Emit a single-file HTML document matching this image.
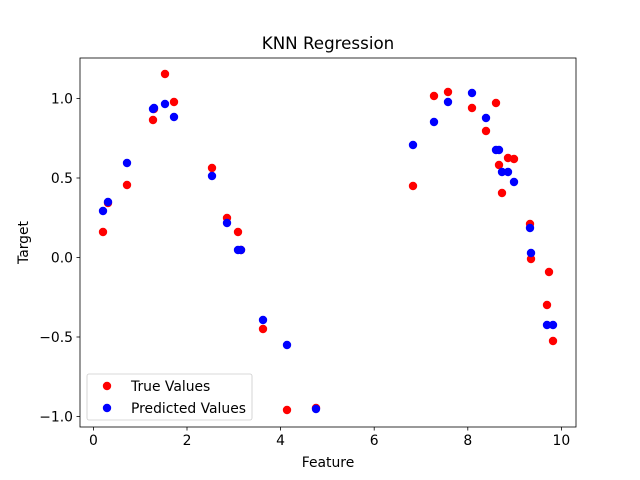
<!DOCTYPE html>
<html><head><meta charset="utf-8"><style>body{margin:0;background:#fff}svg{display:block}text{font-family:"DejaVu Sans","Liberation Sans",sans-serif;fill:#000}</style></head><body>
<svg width="640" height="480" xmlns="http://www.w3.org/2000/svg">
<rect x="80" y="58" width="496" height="369" fill="#fff" stroke="#000" stroke-width="0.8"/>
<g stroke="#000" stroke-width="0.8">
<line x1="93.4" y1="427" x2="93.4" y2="430.5"/><line x1="187" y1="427" x2="187" y2="430.5"/><line x1="280.6" y1="427" x2="280.6" y2="430.5"/><line x1="374.2" y1="427" x2="374.2" y2="430.5"/><line x1="467.8" y1="427" x2="467.8" y2="430.5"/><line x1="561.4" y1="427" x2="561.4" y2="430.5"/>
<line x1="76.5" y1="98.5" x2="80" y2="98.5"/><line x1="76.5" y1="178" x2="80" y2="178"/><line x1="76.5" y1="257.5" x2="80" y2="257.5"/><line x1="76.5" y1="337" x2="80" y2="337"/><line x1="76.5" y1="416.5" x2="80" y2="416.5"/>
</g>
<g font-size="13.9" text-anchor="middle">
<text x="93.4" y="445">0</text><text x="187" y="445">2</text><text x="280.6" y="445">4</text><text x="374.2" y="445">6</text><text x="467.8" y="445">8</text><text x="561.4" y="445">10</text>
</g>
<g font-size="13.9" text-anchor="end">
<text x="73" y="103.5">1.0</text><text x="73" y="183">0.5</text><text x="73" y="262.5">0.0</text><text x="73" y="342">−0.5</text><text x="73" y="421.5">−1.0</text>
</g>
<text x="328" y="467" font-size="13.9" text-anchor="middle">Feature</text>
<text transform="translate(28,242.5) rotate(-90)" font-size="13.9" text-anchor="middle">Target</text>
<text x="328" y="49" font-size="16.7" text-anchor="middle">KNN Regression</text>
<g fill="red">
<circle cx="103" cy="232" r="4.2"/><circle cx="108" cy="203" r="4.2"/><circle cx="127" cy="185" r="4.2"/><circle cx="153" cy="120" r="4.2"/><circle cx="154" cy="109" r="4.2"/><circle cx="165" cy="74" r="4.2"/><circle cx="174" cy="102" r="4.2"/><circle cx="212" cy="168" r="4.2"/><circle cx="227" cy="218" r="4.2"/><circle cx="238" cy="232" r="4.2"/><circle cx="241" cy="250" r="4.2"/><circle cx="263" cy="329" r="4.2"/><circle cx="287" cy="410" r="4.2"/><circle cx="316" cy="408" r="4.2"/><circle cx="413" cy="186" r="4.2"/><circle cx="434" cy="96" r="4.2"/><circle cx="448" cy="92" r="4.2"/><circle cx="472" cy="108" r="4.2"/><circle cx="486" cy="131" r="4.2"/><circle cx="496" cy="103" r="4.2"/><circle cx="499" cy="165" r="4.2"/><circle cx="502" cy="193" r="4.2"/><circle cx="508" cy="158" r="4.2"/><circle cx="514" cy="159" r="4.2"/><circle cx="530" cy="224" r="4.2"/><circle cx="531" cy="259" r="4.2"/><circle cx="549" cy="272" r="4.2"/><circle cx="547" cy="305" r="4.2"/><circle cx="553" cy="341" r="4.2"/>
</g>
<g fill="blue">
<circle cx="103" cy="211" r="4.2"/><circle cx="108" cy="202" r="4.2"/><circle cx="127" cy="163" r="4.2"/><circle cx="153" cy="109" r="4.2"/><circle cx="154" cy="108" r="4.2"/><circle cx="165" cy="104" r="4.2"/><circle cx="174" cy="117" r="4.2"/><circle cx="212" cy="176" r="4.2"/><circle cx="227" cy="223" r="4.2"/><circle cx="238" cy="250" r="4.2"/><circle cx="241" cy="250" r="4.2"/><circle cx="263" cy="320" r="4.2"/><circle cx="287" cy="345" r="4.2"/><circle cx="316" cy="409" r="4.2"/><circle cx="413" cy="145" r="4.2"/><circle cx="434" cy="122" r="4.2"/><circle cx="448" cy="102" r="4.2"/><circle cx="472" cy="93" r="4.2"/><circle cx="486" cy="118" r="4.2"/><circle cx="496" cy="150" r="4.2"/><circle cx="499" cy="150" r="4.2"/><circle cx="502" cy="172" r="4.2"/><circle cx="508" cy="172" r="4.2"/><circle cx="514" cy="182" r="4.2"/><circle cx="530" cy="228" r="4.2"/><circle cx="531" cy="253" r="4.2"/><circle cx="547" cy="325" r="4.2"/><circle cx="553" cy="325" r="4.2"/>
</g>
<rect x="87" y="374" width="165" height="46" rx="2" fill="#fff" fill-opacity="0.8" stroke="#ccc" stroke-width="0.8"/>
<circle cx="107" cy="386" r="4.2" fill="red"/><circle cx="107" cy="408" r="4.2" fill="blue"/>
<text x="131" y="391" font-size="13.9">True Values</text>
<text x="131" y="413" font-size="13.9">Predicted Values</text>
</svg>
</body></html>
